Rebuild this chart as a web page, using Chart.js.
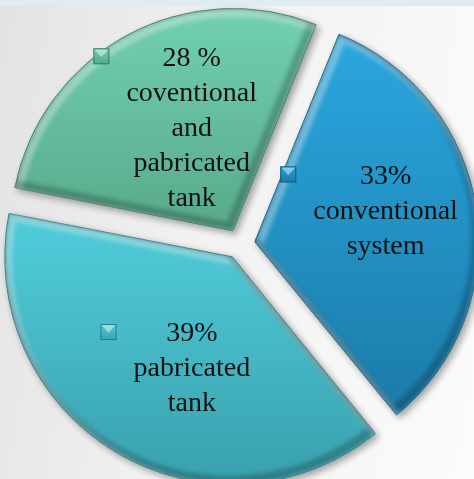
<!DOCTYPE html>
<html>
<head>
<meta charset="utf-8">
<script src="https://cdn.jsdelivr.net/npm/chart.js@4.4.0/dist/chart.umd.min.js"></script>
<style>
  html, body { margin: 0; padding: 0; }
  body {
    width: 474px; height: 479px; overflow: hidden; position: relative;
    background: linear-gradient(100deg, #e3e3e3 0%, #f2f2f2 45%, #fbfbfb 100%);
  }
  #band { position: absolute; left: 0; top: 0; width: 474px; height: 6px; background: #ddedf2; }
  #wrap { position: absolute; left: 0; top: 0; width: 474px; height: 479px; }
</style>
</head>
<body>
<div id="band"></div>
<div id="wrap"><canvas id="myChart"></canvas></div>
<script>
// slices, clockwise from the upper right
const shares = [33, 39, 28];
const percentText = ['33%', '39%', '28 %'];
const labelLines = [
  ['conventional', 'system'],
  ['pabricated', 'tank'],
  ['coventional', 'and', 'pabricated', 'tank']
];

// look of each slice
const topColors = ['#2aa6de', '#4fcad8', '#72d0b2'];
const bottomColors = ['#1a78a5', '#3aa1ae', '#56a888'];
const edgeColors = ['#135d7e', '#2a7d87', '#3c7e66'];
const gradStops = [[0.05, 0.95], [0.45, 1.0], [0.0, 0.52]];
const labelNudge = [[9, -12], [24, 5], [17, 5]];

const pieRadius = 222;

let ctx = document.getElementById('myChart').getContext('2d');

function sliceFill(c) {
  const i = c.dataIndex;
  const area = c.chart.chartArea;
  if (!area) return topColors[i];
  const cy = (area.top + area.bottom) / 2;
  const g = c.chart.ctx.createLinearGradient(0, cy - pieRadius, 0, cy + pieRadius);
  g.addColorStop(gradStops[i][0], topColors[i]);
  g.addColorStop(gradStops[i][1], bottomColors[i]);
  return g;
}

// same geometry the arc element uses when it draws itself
function slicePath(arc) {
  const p = arc.getProps(['x', 'y', 'startAngle', 'endAngle', 'outerRadius', 'circumference'], true);
  const o = (arc.options.offset || 0) / 4;
  const mid = (p.startAngle + p.endAngle) / 2;
  const fix = 1 - Math.sin(Math.min(Math.PI, p.circumference));
  const r = p.outerRadius + o * fix;
  const cx = p.x + Math.cos(mid) * o;
  const cy = p.y + Math.sin(mid) * o;
  const path = new Path2D();
  path.moveTo(cx, cy);
  path.arc(cx, cy, r, p.startAngle, p.endAngle);
  path.closePath();
  return {path, cx, cy, r, mid};
}

const shadowPlugin = {
  id: 'shadow',
  beforeDatasetsDraw(chart) {
    const c = chart.ctx;
    c.save();
    c.shadowColor = 'rgba(0,0,0,0.35)';
    c.shadowBlur = 7;
    c.shadowOffsetX = 3;
    c.shadowOffsetY = 3;
  },
  afterDatasetsDraw(chart) {
    const c = chart.ctx;
    c.restore();
    // soft bevel along the slice edges
    chart.getDatasetMeta(0).data.forEach((arc) => {
      const s = slicePath(arc);
      c.save();
      c.clip(s.path);
      c.filter = 'blur(2px)';
      c.lineWidth = 9;
      c.save();
      c.translate(3, 4);
      c.strokeStyle = 'rgba(255,255,255,0.35)';
      c.stroke(s.path);
      c.restore();
      c.save();
      c.translate(-3, -4);
      c.strokeStyle = 'rgba(0,0,0,0.22)';
      c.stroke(s.path);
      c.restore();
      c.restore();
    });
  }
};

function drawMarker(c, x, y, i) {
  const s = 16;
  const g = c.createLinearGradient(0, y - s / 2, 0, y + s / 2);
  g.addColorStop(0, topColors[i]);
  g.addColorStop(1, bottomColors[i]);
  c.fillStyle = g;
  c.fillRect(x - s / 2, y - s / 2, s, s);
  c.beginPath();
  c.moveTo(x - s / 2 + 1, y - s / 2 + 1);
  c.lineTo(x + s / 2 - 1, y - s / 2 + 1);
  c.lineTo(x, y + 1);
  c.closePath();
  c.fillStyle = 'rgba(255,255,255,0.45)';
  c.fill();
  c.strokeStyle = edgeColors[i];
  c.lineWidth = 1;
  c.strokeRect(x - s / 2 + 0.5, y - s / 2 + 0.5, s - 1, s - 1);
}

const labelPlugin = {
  id: 'sliceLabels',
  afterDraw(chart) {
    const c = chart.ctx;
    const lineH = 35;
    c.save();
    c.font = '28px "Liberation Serif", serif';
    c.textAlign = 'center';
    c.textBaseline = 'middle';
    chart.getDatasetMeta(0).data.forEach((arc, i) => {
      const s = slicePath(arc);
      const x = s.cx + Math.cos(s.mid) * s.r * 0.55 + labelNudge[i][0];
      const y = s.cy + Math.sin(s.mid) * s.r * 0.55 + labelNudge[i][1];
      const lines = [percentText[i]].concat(labelLines[i]);
      const top = y - (lines.length - 1) * lineH / 2;
      let widest = 0;
      lines.forEach((t, k) => {
        widest = Math.max(widest, c.measureText(t).width);
        c.fillStyle = '#111';
        c.fillText(t, x, top + k * lineH);
      });
      drawMarker(c, x - widest / 2 - 25, top - 2, i);
    });
    c.restore();
  }
};

let myChart = new Chart(ctx, {
  type: 'pie',
  data: {
    labels: labelLines.map(l => l.join(' ')),
    datasets: [{
      data: shares,
      backgroundColor: sliceFill,
      borderColor: edgeColors,
      borderWidth: 1,
      offset: 60,
      clip: false
    }]
  },
  options: {
    responsive: true,
    maintainAspectRatio: false,
    animation: false,
    rotation: 22,
    radius: pieRadius,
    layout: { padding: { left: 6, top: 9, right: 0, bottom: 0 } },
    plugins: {
      legend: { display: false },
      tooltip: { enabled: false }
    },
    events: []
  },
  plugins: [shadowPlugin, labelPlugin]
});
</script>
</body>
</html>
